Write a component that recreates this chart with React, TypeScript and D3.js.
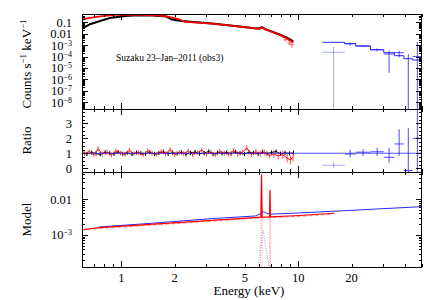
import * as d3 from 'd3';

// ---- layout ----
const W = 424;
const H = 300;
const X0 = 82;
const X1 = 422;
const TOP = [14, 109];
const MID = [109, 172];
const BOT = [172, 267];

// ---- top panel: XIS spectra (keV, counts/s/keV) ----
const blackSpecE = [0.6, 0.665, 0.76, 0.86, 1.05, 1.24, 1.5, 1.8, 1.93, 2.2, 3.25, 4.66, 5.66, 6.03, 6.24, 6.46, 7.84, 8.68, 9.38];
const blackSpecV = [0.028, 0.07, 0.135, 0.24, 0.36, 0.43, 0.41, 0.33, 0.18, 0.135, 0.08, 0.044, 0.031, 0.0296, 0.039, 0.027, 0.0088, 0.0043, 0.0022];
const redSpecE = [0.6, 0.665, 0.76, 0.92, 1.2, 1.55, 1.8, 1.88, 2.1, 2.3, 3.25, 4.66, 5.66, 6.03, 6.24, 6.46, 7.84, 8.68, 9.38];
const redSpecV = [0.18, 0.25, 0.34, 0.46, 0.48, 0.42, 0.34, 0.29, 0.2, 0.11, 0.078, 0.042, 0.03, 0.028, 0.036, 0.025, 0.008, 0.0036, 0.0017];
const redTailE = [8.45, 8.9, 9.2];
const redTailV = [0.003, 0.0016, 0.0011];
const redTailHi = [0.0042, 0.0024, 0.0017];
const redTailLo = [0.002, 0.001, 0.0006];

// ---- top panel: PIN spectrum ----
const pinEdges = [13.7, 18.3, 21.1, 25.6, 30.4, 34.9, 39.5, 44.3, 50];
const pinModel = [1.8e-3, 1.36e-3, 8.5e-4, 4.0e-4, 2.2e-4, 1.2e-4, 6.5e-5, 5.0e-5];
const pinData = [2.4e-4, 1.36e-3, 8.5e-4, 4.0e-4, 1.7e-4, 2.2e-4, 1e-12, 1.0e-4];
const pinHi = [7e-4, 1.8e-3, 1.0e-3, 5.2e-4, 3.3e-4, 3.1e-4, 1.7e-4, 1.9e-3];
const pinLo = [1e-12, 9.1e-4, 7.0e-4, 2.9e-4, 3.8e-6, 8.6e-5, 1e-12, 1e-12];

// ---- ratio panel ----
const ratioBlackE = [0.6, 0.64, 0.68, 0.72, 0.76, 0.81, 0.86, 0.91, 0.96, 1.02, 1.08, 1.15, 1.22, 1.29, 1.37, 1.45, 1.54, 1.63, 1.73, 1.84, 1.95, 2.07, 2.19, 2.32, 2.46, 2.61, 2.77, 2.94, 3.12, 3.3, 3.5, 3.71, 3.94, 4.17, 4.42, 4.69, 4.97, 5.27, 5.59, 5.93, 6.28, 6.66, 7.06, 7.49, 7.94, 8.41, 8.92, 9.4];
const ratioBlack = [1.02, 0.95, 1.05, 0.98, 0.93, 1.06, 1.0, 0.96, 1.08, 0.97, 1.03, 0.94, 1.05, 1.0, 0.97, 1.07, 0.95, 1.02, 1.1, 0.96, 1.04, 0.98, 1.06, 0.93, 1.03, 1.08, 0.97, 1.01, 1.12, 0.95, 1.04, 0.99, 1.06, 0.97, 1.09, 1.0, 0.95, 1.07, 1.03, 0.96, 1.1, 0.98, 1.05, 1.12, 0.97, 1.03, 0.99, 1.04];
const ratioRedE = [0.62, 0.66, 0.7, 0.74, 0.78, 0.83, 0.88, 0.93, 0.99, 1.05, 1.11, 1.18, 1.25, 1.33, 1.41, 1.49, 1.58, 1.68, 1.78, 1.89, 2.01, 2.13, 2.25, 2.39, 2.53, 2.69, 2.85, 3.03, 3.21, 3.4, 3.6, 3.82, 4.05, 4.3, 4.55, 4.83, 5.12, 5.43, 5.76, 6.1, 6.47, 6.86, 7.27, 7.71, 8.17, 8.66, 9.05, 9.35];
const ratioRed = [0.98, 1.12, 0.9, 1.3, 0.95, 1.08, 0.88, 1.15, 1.02, 0.92, 1.2, 0.97, 1.05, 0.9, 1.18, 1.0, 0.93, 1.1, 0.96, 1.25, 0.9, 1.06, 0.98, 1.15, 0.92, 1.04, 1.22, 0.95, 1.08, 0.9, 1.12, 1.0, 0.94, 1.18, 0.96, 1.06, 1.35, 0.92, 1.1, 0.97, 1.05, 0.85, 0.95, 0.82, 0.9, 0.67, 0.55, 0.78];
const ratioRedErr = [0.16, 0.16, 0.16, 0.17, 0.16, 0.16, 0.16, 0.16, 0.16, 0.16, 0.16, 0.16, 0.16, 0.16, 0.16, 0.16, 0.16, 0.16, 0.16, 0.16, 0.16, 0.16, 0.16, 0.16, 0.16, 0.16, 0.16, 0.16, 0.16, 0.16, 0.17, 0.17, 0.17, 0.17, 0.18, 0.18, 0.19, 0.19, 0.2, 0.2, 0.21, 0.22, 0.22, 0.24, 0.26, 0.28, 0.3, 0.32];
const ratioBlackErr = 0.14;
const pinRatio = [0.2, 0.95, 1.07, 1.1, 0.73, 1.62, -0.15, 2.0];
const pinRatioHi = [0.37, 1.22, 1.27, 1.37, 1.37, 2.6, 2.67, 6];
const pinRatioLo = [0.0, 0.73, 0.82, 0.82, 0.37, 0.82, -0.3, -0.3];

// ---- model panel ----
const modRedE = [0.6, 0.75, 1.45, 3.25, 5.9, 6.15, 6.2, 6.25, 6.88, 6.92, 6.96, 10.1, 16];
const modRedV = [1.38e-3, 1.6e-3, 1.97e-3, 2.55e-3, 3.1e-3, 3.12e-3, 0.05, 3.14e-3, 3.2e-3, 0.018, 3.22e-3, 3.5e-3, 4.05e-3];
const modRedContE = [0.75, 1.45, 3.25, 5.9, 10.1, 15.5];
const modRedContV = [1.5e-3, 1.86e-3, 2.42e-3, 2.95e-3, 3.3e-3, 3.8e-3];
const modBlueE = [0.75, 1.45, 3.25, 5.74, 6.1, 6.34, 6.6, 6.9, 10.1, 19.4, 50];
const modBlueV = [1.67e-3, 2.1e-3, 2.86e-3, 3.4e-3, 3.9e-3, 4.5e-3, 4.1e-3, 3.8e-3, 4.13e-3, 4.85e-3, 6.2e-3];
const lineRed1E = [6.12, 6.2, 6.26];
const lineRed1V = [1e-4, 0.047, 1e-4];
const lineRed2E = [6.86, 6.92, 6.98];
const lineRed2V = [1e-4, 0.016, 1e-4];
const lineBlueE = [5.86, 6.34, 6.88];
const lineBlueV = [1e-4, 1.3e-3, 1e-4];

// ---- axis labels ----
const xLabels = [1, 2, 5, 10, 20];
const topLabels = [0.1, 0.01, 1e-3, 1e-4, 1e-5, 1e-6, 1e-7, 1e-8];
const ratioLabels = [0, 1, 2, 3];
const modLabels = [0.01, 1e-3];

const FONT = '"Liberation Serif", "Times New Roman", serif';
const BLUE = '#2828ff';

const zip = (a: number[], b: number[]) => a.map((v, i) => [v, b[i]] as [number, number]);
const isDecade = (v: number) => Math.abs(Math.log10(v) - Math.round(Math.log10(v))) < 1e-6;

function LogLabel({ v, x, y }: { v: number; x: number; y: number }) {
  const e = Math.round(Math.log10(v));
  if (e >= -2) {
    return <text x={x} y={y} dy="0.35em" textAnchor="end">{v === 0.1 ? '0.1' : '0.01'}</text>;
  }
  return (
    <text x={x} y={y} dy="0.35em" textAnchor="end">
      10<tspan dy="-4" fontSize={8}>{'\u2212' + Math.abs(e)}</tspan>
    </text>
  );
}

export default function App() {
  const x = d3.scaleLog().domain([0.6, 50]).range([X0, X1]);
  const yTop = d3.scaleLog().domain([2.5e-9, 0.55]).range([TOP[1], TOP[0]]);
  const yRat = d3.scaleLinear().domain([-0.25, 3.95]).range([MID[1], MID[0]]);
  const yMod = d3.scaleLog().domain([1.26e-4, 0.058]).range([BOT[1], BOT[0]]);

  const lineOf = (ys: (v: number) => number) =>
    d3.line<[number, number]>().x(d => x(d[0])).y(d => ys(d[1]));

  const xTicks = x.ticks();
  const ratioTicks = d3.range(-0.25, 3.96, 0.25);

  const frame = (key: string, p: number[], yt: number[], yMajor: (v: number) => boolean, ys: (v: number) => number) => (
    <g key={key} stroke="#000" strokeWidth={1} fill="none">
      <rect x={X0 + 0.5} y={p[0] + 0.5} width={X1 - X0 - 1} height={p[1] - p[0]} />
      {xTicks.map(t => {
        const len = isDecade(t) ? 6 : 3;
        const xp = Math.round(x(t)) + 0.5;
        return (
          <g key={'x' + t}>
            <line x1={xp} x2={xp} y1={p[1]} y2={p[1] - len} />
            <line x1={xp} x2={xp} y1={p[0]} y2={p[0] + len} />
          </g>
        );
      })}
      {yt.map(t => {
        const len = yMajor(t) ? 6 : 3;
        const yp = Math.round(ys(t)) + 0.5;
        return (
          <g key={'y' + t}>
            <line x1={X0} x2={X0 + len} y1={yp} y2={yp} />
            <line x1={X1} x2={X1 - len} y1={yp} y2={yp} />
          </g>
        );
      })}
    </g>
  );

  const pinCenters = pinModel.map((_, i) => Math.sqrt(pinEdges[i] * pinEdges[i + 1]));
  const pinStep: [number, number][] = [];
  pinModel.forEach((v, i) => {
    pinStep.push([pinEdges[i], v]);
    pinStep.push([pinEdges[i + 1], v]);
  });

  return (
    <svg width={W} height={H} style={{ position: 'absolute', left: 0, top: 0, background: '#fff' }} fontFamily={FONT}>
      <defs>
        <clipPath id="cTop"><rect x={X0} y={TOP[0]} width={X1 - X0} height={TOP[1] - TOP[0]} /></clipPath>
        <clipPath id="cMid"><rect x={X0} y={MID[0]} width={X1 - X0} height={MID[1] - MID[0]} /></clipPath>
        <clipPath id="cBot"><rect x={X0} y={BOT[0] - 3} width={X1 - X0} height={BOT[1] - BOT[0] + 3} /></clipPath>
      </defs>

      {/* top panel */}
      <g clipPath="url(#cTop)" fill="none">
        <path d={lineOf(yTop)(zip(blackSpecE, blackSpecV)) ?? ''} stroke="#000" strokeWidth={2} />
        <path d={lineOf(yTop)(zip(redSpecE, redSpecV)) ?? ''} stroke="#ff0000" strokeWidth={1.8} />
        {redTailE.map((e, i) => (
          <g key={'rt' + i} stroke="#ff6060" strokeWidth={1}>
            <line x1={x(e)} x2={x(e)} y1={yTop(redTailHi[i])} y2={yTop(redTailLo[i])} />
            <line x1={x(e) - 2} x2={x(e) + 2} y1={yTop(redTailV[i])} y2={yTop(redTailV[i])} />
          </g>
        ))}
        <path d={lineOf(yTop)(pinStep) ?? ''} stroke={BLUE} strokeWidth={1} />
        {pinCenters.map((c, i) => (
          <g key={'pd' + i} stroke={BLUE} strokeOpacity={i === 0 ? 0.4 : 0.85} strokeWidth={1}>
            <line x1={x(pinEdges[i])} x2={x(pinEdges[i + 1])} y1={yTop(pinData[i])} y2={yTop(pinData[i])} />
            <line x1={x(c)} x2={x(c)} y1={yTop(pinHi[i])} y2={yTop(pinLo[i])} />
          </g>
        ))}
      </g>
      <text x={116} y={61} fontSize={9.5}>Suzaku 23–Jan–2011 (obs3)</text>

      {/* ratio panel */}
      <g clipPath="url(#cMid)" fill="none">
        <path d={lineOf(yRat)(zip(ratioBlackE, ratioBlack)) ?? ''} stroke="#000" strokeWidth={1} />
        {ratioBlackE.map((e, i) => (
          <line key={'rb' + i} x1={x(e)} x2={x(e)} y1={yRat(ratioBlack[i] + ratioBlackErr)} y2={yRat(ratioBlack[i] - ratioBlackErr)} stroke="#000" strokeWidth={1} />
        ))}
        <path d={lineOf(yRat)(zip(ratioRedE, ratioRed)) ?? ''} stroke="#ff0000" strokeWidth={1} />
        {ratioRedE.map((e, i) => (
          <line key={'rr' + i} x1={x(e)} x2={x(e)} y1={yRat(ratioRed[i] + ratioRedErr[i])} y2={yRat(ratioRed[i] - ratioRedErr[i])} stroke="#ff2020" strokeWidth={1} strokeOpacity={0.8} />
        ))}
        <line x1={X0} x2={X1} y1={yRat(1)} y2={yRat(1)} stroke={BLUE} strokeWidth={1} strokeOpacity={0.8} />
        {pinCenters.map((c, i) => (
          <g key={'pr' + i} stroke={BLUE} strokeOpacity={i === 0 ? 0.4 : 0.85} strokeWidth={1}>
            <line x1={x(pinEdges[i])} x2={x(pinEdges[i + 1])} y1={yRat(pinRatio[i])} y2={yRat(pinRatio[i])} />
            <line x1={x(c)} x2={x(c)} y1={yRat(pinRatioHi[i])} y2={yRat(pinRatioLo[i])} />
          </g>
        ))}
      </g>

      {/* model panel */}
      <g clipPath="url(#cBot)" fill="none">
        <path d={lineOf(yMod)(zip(lineBlueE, lineBlueV)) ?? ''} stroke="#9a9aff" strokeWidth={1} strokeDasharray="1 1.5" />
        <path d={lineOf(yMod)(zip(lineRed1E, lineRed1V)) ?? ''} stroke="#ff8c8c" strokeWidth={1} strokeDasharray="1 1.5" />
        <path d={lineOf(yMod)(zip(lineRed2E, lineRed2V)) ?? ''} stroke="#ff8c8c" strokeWidth={1} strokeDasharray="1 1.5" />
        <path d={lineOf(yMod)(zip(modRedContE, modRedContV)) ?? ''} stroke="#ff9090" strokeWidth={1} strokeDasharray="4 2" />
        <path d={lineOf(yMod)(zip(modBlueE, modBlueV)) ?? ''} stroke={BLUE} strokeWidth={1} />
        <path d={lineOf(yMod)(zip(modRedE, modRedV)) ?? ''} stroke="#ff0000" strokeWidth={1.2} />
      </g>

      {frame('f1', TOP, yTop.ticks(), isDecade, yTop)}
      {frame('f2', MID, ratioTicks, v => Math.abs(v - Math.round(v)) < 1e-6, yRat)}
      {frame('f3', BOT, yMod.ticks(), isDecade, yMod)}

      {/* tick labels */}
      <g fontSize={12.5} fill="#000">
        {topLabels.map(v => <LogLabel key={'tl' + v} v={v} x={72} y={yTop(v)} />)}
        {ratioLabels.map(v => (
          <text key={'rl' + v} x={72} y={yRat(v)} dy="0.35em" textAnchor="end">{v}</text>
        ))}
        {modLabels.map(v => <LogLabel key={'ml' + v} v={v} x={72} y={yMod(v)} />)}
        {xLabels.map(v => (
          <text key={'xl' + v} x={x(v)} y={282} textAnchor="middle">{v}</text>
        ))}
      </g>

      {/* axis titles */}
      <g fontSize={13} fill="#000">
        <text transform="translate(31,64) rotate(-90)" textAnchor="middle">
          Counts s<tspan dy="-5" fontSize={9}>−1</tspan><tspan dy="5"> keV</tspan><tspan dy="-5" fontSize={9}>−1</tspan>
        </text>
        <text transform={`translate(31,${(MID[0] + MID[1]) / 2}) rotate(-90)`} textAnchor="middle">Ratio</text>
        <text transform={`translate(31,${(BOT[0] + BOT[1]) / 2}) rotate(-90)`} textAnchor="middle">Model</text>
        <text x={249} y={295} textAnchor="middle">Energy (keV)</text>
      </g>
    </svg>
  );
}
